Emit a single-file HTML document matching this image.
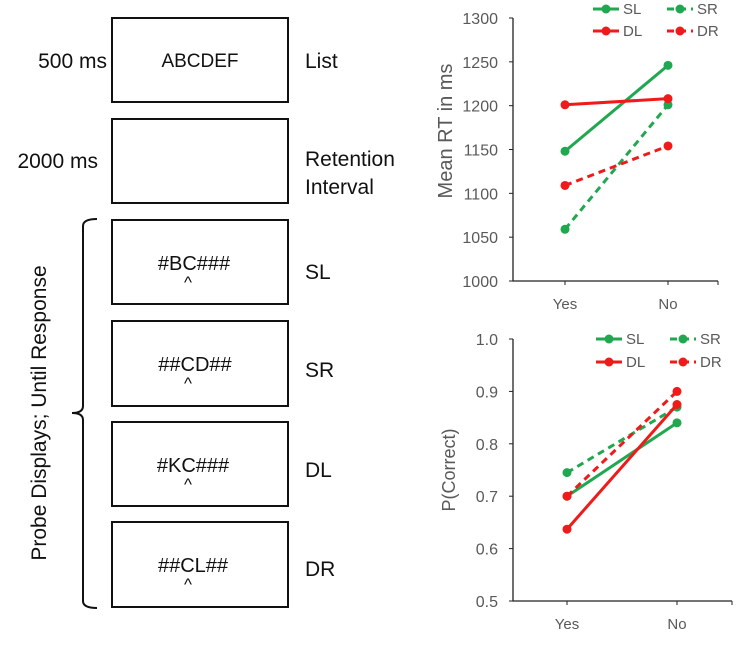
<!DOCTYPE html>
<html><head><meta charset="utf-8"><style>
body{margin:0;background:#fff;width:750px;height:647px;overflow:hidden;font-family:"Liberation Sans",sans-serif}
svg text{font-family:"Liberation Sans",sans-serif}
</style></head><body>
<svg width="750" height="647" viewBox="0 0 750 647">
<g fill="none" stroke="#111" stroke-width="2">
<rect x="112" y="18" width="176" height="84"/>
<rect x="112" y="119" width="176" height="84"/>
<rect x="112" y="220" width="176" height="84"/>
<rect x="112" y="321" width="176" height="85"/>
<rect x="112" y="422" width="176" height="84"/>
<rect x="112" y="522" width="176" height="85"/>
<path d="M97,219 Q83,219 83,226 L83,406 Q83,413 72,413 Q83,413 83,420 L83,601 Q83,608 97,608"/>
</g>
<g fill="#111" font-size="21">
<text x="107" y="68" text-anchor="end">500 ms</text>
<text x="98" y="168" text-anchor="end">2000 ms</text>
<text x="305" y="68">List</text>
<text x="305" y="166">Retention</text>
<text x="305" y="194">Interval</text>
<text x="305" y="279">SL</text>
<text x="305" y="377">SR</text>
<text x="305" y="477">DL</text>
<text x="305" y="576">DR</text>
<text transform="translate(46,413) rotate(-90)" text-anchor="middle">Probe Displays; Until Response</text>
</g>
<g fill="#111" font-size="20" text-anchor="middle">
<text x="200" y="67" font-size="19">ABCDEF</text>
<text x="194" y="270">#BC###</text>
<text x="188" y="288" font-size="17">^</text>
<text x="195" y="371">##CD##</text>
<text x="188" y="389" font-size="17">^</text>
<text x="193" y="472">#KC###</text>
<text x="188" y="490" font-size="17">^</text>
<text x="193" y="572">##CL##</text>
<text x="188" y="590" font-size="17">^</text>
</g>
<g id="rt"></g>
<g id="pc"></g>
</svg>
<script>
const categories = ["Yes","No"];
const seriesNames = ["SL","SR","DL","DR"];
const rtSL = [1148,1246];
const rtSR = [1059,1201];
const rtDL = [1201,1208];
const rtDR = [1109,1154];
const rtTicks = [1000,1050,1100,1150,1200,1250,1300];
const pcSL = [0.70,0.84];
const pcSR = [0.745,0.87];
const pcDL = [0.637,0.875];
const pcDR = [0.70,0.90];
const pcTicks = ["0.5","0.6","0.7","0.8","0.9","1.0"];
const NS="http://www.w3.org/2000/svg";
function mk(p,t,a){const e=document.createElementNS(NS,t);for(const k in a)e.setAttribute(k,a[k]);p.appendChild(e);return e;}
const GREEN="#1fa84f", RED="#f01a1a";
function chart(g,cfg){
  const ys=v=>cfg.y0+(v-cfg.vmin)/(cfg.vmax-cfg.vmin)*(cfg.y1-cfg.y0);
  const xs=i=>cfg.xc[i];
  const ax=mk(g,'path',{d:`M${cfg.ax},${cfg.y1} L${cfg.ax},${cfg.y0} L${cfg.axEnd},${cfg.y0}`,stroke:'#222','stroke-width':1.3,fill:'none'});
  
  
  cfg.ticks.forEach(t=>{
    const v=parseFloat(t), y=ys(v);
    const tk=mk(g,'line',{x1:cfg.ax-4,x2:cfg.ax,y1:y,y2:y,stroke:'#222','stroke-width':1});
    
    
    const tl=mk(g,'text',{x:cfg.ax-15,y:y+6,'text-anchor':'end','font-size':16,fill:'#595959'});tl.textContent=t;
    
    
  });
  categories.forEach((c,i)=>{
    const tk=mk(g,'line',{x1:xs(i),x2:xs(i),y1:cfg.y0,y2:cfg.y0+4,stroke:'#222','stroke-width':1});
    
    
    const tl=mk(g,'text',{x:xs(i),y:cfg.y0+28,'text-anchor':'middle','font-size':15,fill:'#595959'});tl.textContent=c;
    
    
  });
  const endTk=mk(g,'line',{x1:cfg.axEnd,x2:cfg.axEnd,y1:cfg.y0,y2:cfg.y0+4,stroke:'#222','stroke-width':1});
  
  
  const tt=mk(g,'text',{transform:`translate(${cfg.titleX},${cfg.titleY}) rotate(-90)`,'text-anchor':'middle','font-size':cfg.titleSize,fill:'#595959'});
  tt.textContent=cfg.title;
  
  
  const styles=[[GREEN,''],[GREEN,'7,5'],[RED,''],[RED,'7,5']];
  cfg.series.forEach((s,k)=>{
    const [col,dash]=styles[k];
    const ln=mk(g,'polyline',{points:s.map((v,i)=>xs(i)+','+ys(v)).join(' '),stroke:col,'stroke-width':3,fill:'none','stroke-dasharray':dash});
    
    
    s.forEach((v,i)=>{
      const p=mk(g,'circle',{cx:xs(i),cy:ys(v),r:4.5,fill:col});
      
      
    });
    const lx=cfg.legX[k%2], ly=cfg.legY[Math.floor(k/2)];
    const lg=mk(g,'g',{});
    
    
    mk(lg,'line',{x1:lx,x2:lx+26,y1:ly,y2:ly,stroke:col,'stroke-width':3,'stroke-dasharray':dash});
    mk(lg,'circle',{cx:lx+13,cy:ly,r:4.5,fill:col});
    const t=mk(lg,'text',{x:lx+30,y:ly+5,'font-size':15,fill:'#595959'});t.textContent=seriesNames[k];
  });
}
chart(document.getElementById('rt'),{vmin:1000,vmax:1300,y0:281,y1:18,ax:513,axEnd:718,xc:[565,668],ticks:rtTicks.map(String),title:'Mean RT in ms',titleX:452,titleY:131,titleSize:20,series:[rtSL,rtSR,rtDL,rtDR],legX:[593,667],legY:[9,31]});
chart(document.getElementById('pc'),{vmin:0.5,vmax:1.0,y0:601,y1:339,ax:513,axEnd:732,xc:[567,677],ticks:pcTicks,title:'P(Correct)',titleX:455,titleY:470,titleSize:18,series:[pcSL,pcSR,pcDL,pcDR],legX:[596,670],legY:[339,362]});
</script>
</body></html>
